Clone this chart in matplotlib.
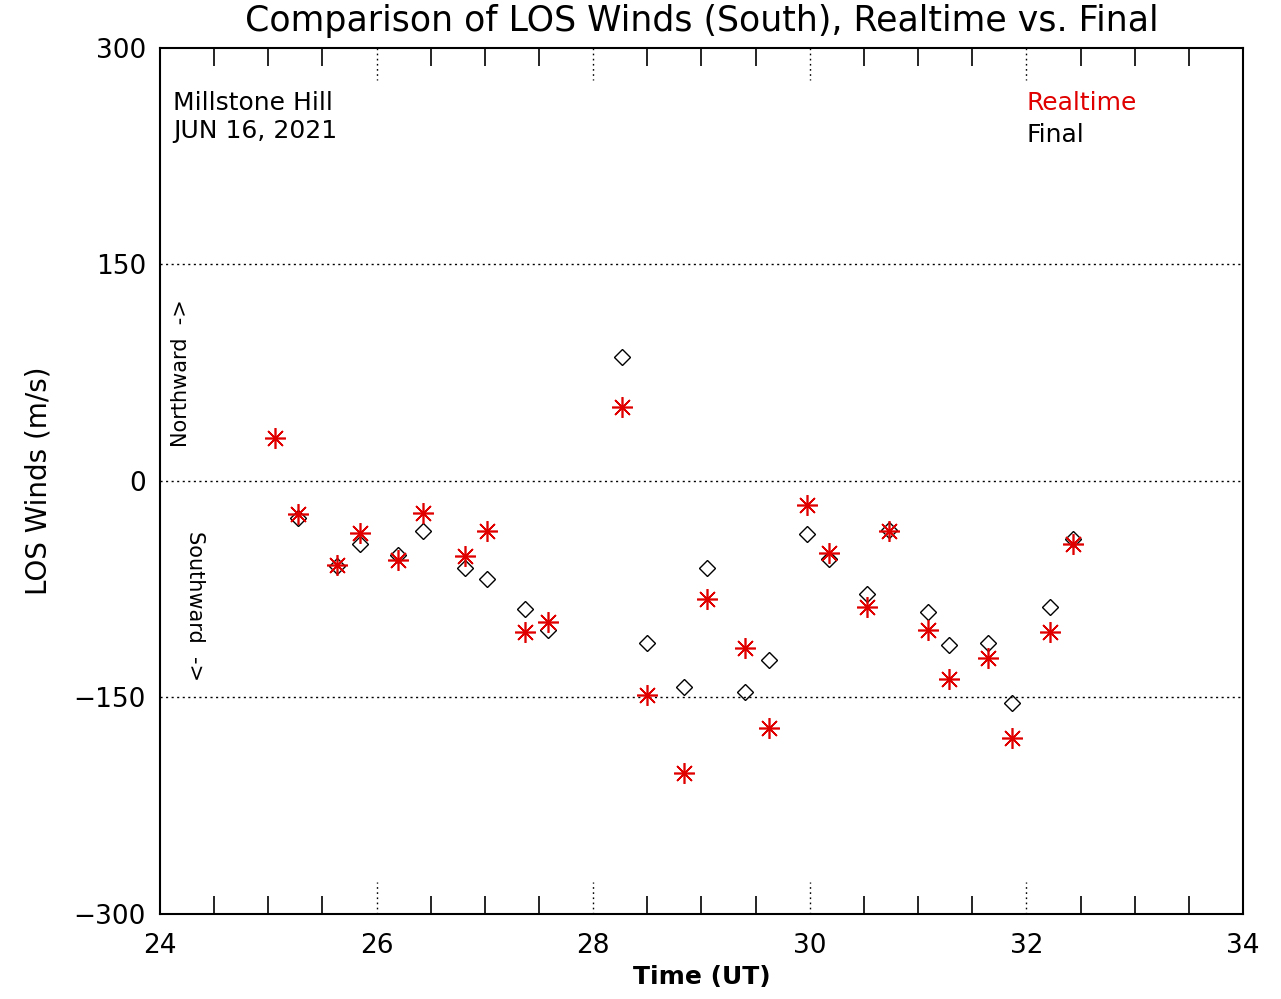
import matplotlib
matplotlib.use("Agg")
import matplotlib.pyplot as plt
import matplotlib.transforms as mtransforms
import numpy as np

# Time (UT hours past midnight Jun 16) and LOS winds (m/s)
time_rt = [25.06, 25.27, 25.63, 25.85, 26.20, 26.43, 26.82, 27.02, 27.37, 27.58,
           28.27, 28.50, 28.84, 29.05, 29.40, 29.62, 29.97, 30.18, 30.53, 30.73,
           31.09, 31.29, 31.65, 31.87, 32.22, 32.43]
wind_rt = [29.5, -23, -58, -36, -55, -22, -52, -35, -105, -98,
           51, -148, -202, -82, -116, -171, -17, -50, -87, -35,
           -103, -137, -123, -178, -105, -44]

time_fin = [25.27, 25.63, 25.85, 26.20, 26.43, 26.82, 27.02, 27.37, 27.58,
            28.27, 28.50, 28.84, 29.05, 29.40, 29.62, 29.97, 30.18, 30.53, 30.73,
            31.09, 31.29, 31.65, 31.87, 32.22, 32.43]
wind_fin = [-26, -59, -44, -51, -35, -60, -68, -89, -103,
            86, -112, -143, -60, -146, -124, -37, -54, -78, -34,
            -91, -114, -112, -154, -87, -40]

x_major = [24, 26, 28, 30, 32, 34]
y_ticks = [-300, -150, 0, 150, 300]
y_grid = [-150, 0, 150]

RED = "#e00000"

fig = plt.figure(figsize=(12.81, 9.99), dpi=100)
ax = fig.add_axes([0.1249, 0.0851, 0.8454, 0.867])

ax.plot(time_fin, wind_fin, linestyle="none", marker="D", markersize=8.5,
        markerfacecolor="none", markeredgecolor="black", markeredgewidth=1.0, zorder=3)
ax.plot(time_rt, wind_rt, linestyle="none", marker=(8, 2, 0), markersize=15,
        color=RED, markeredgewidth=1.2, zorder=4)

ax.set_xlim(24, 34)
ax.set_ylim(-300, 300)

for yv in y_grid:
    ax.axhline(yv, color="black", linestyle=(0, (1.5, 2.5)), linewidth=1.0, zorder=1)

# dotted major tick marks at top and bottom
trans = mtransforms.blended_transform_factory(ax.transData, ax.transAxes)
for xv in x_major[1:-1]:
    ax.plot([xv, xv], [0, 0.037], transform=trans, color="black",
            linestyle=(0, (1.2, 2.5)), linewidth=1.0, clip_on=False)
    ax.plot([xv, xv], [1, 1 - 0.037], transform=trans, color="black",
            linestyle=(0, (1.2, 2.5)), linewidth=1.0, clip_on=False)

ax.set_xticks(x_major)
ax.set_xticks(np.arange(24, 34.01, 0.5), minor=True)
ax.tick_params(axis="x", which="major", length=0, pad=14, labelsize=19)
ax.tick_params(axis="x", which="minor", direction="in", length=13, width=1.2,
               top=True, bottom=True)
ax.set_yticks(y_ticks)
ax.set_yticklabels(["\u2212300", "\u2212150", "0", "150", "300"])
ax.tick_params(axis="y", which="major", length=0, pad=10, labelsize=19)

for sp in ax.spines.values():
    sp.set_linewidth(1.5)

ax.set_title("Comparison of LOS Winds (South), Realtime vs. Final",
             fontsize=25, pad=12)
ax.set_xlabel("Time (UT)", fontsize=18, fontweight="bold", labelpad=4)
ax.set_ylabel("LOS Winds (m/s)", fontsize=20, labelpad=15)

ax.text(0.012, 0.95, "Millstone Hill\nJUN 16, 2021", transform=ax.transAxes,
        ha="left", va="top", fontsize=18, linespacing=1.2)
ax.text(0.8, 0.95, "Realtime", transform=ax.transAxes, ha="left", va="top",
        fontsize=18, color=RED)
ax.text(0.8, 0.913, "Final", transform=ax.transAxes, ha="left", va="top",
        fontsize=18, color="black")

ax.text(0.019, 0.625, "Northward  ->", transform=ax.transAxes, rotation=90,
        ha="center", va="center", fontsize=15)
ax.text(0.032, 0.356, "Southward  ->", transform=ax.transAxes, rotation=-90,
        ha="center", va="center", fontsize=15)

fig.savefig("out.png", dpi=100)
